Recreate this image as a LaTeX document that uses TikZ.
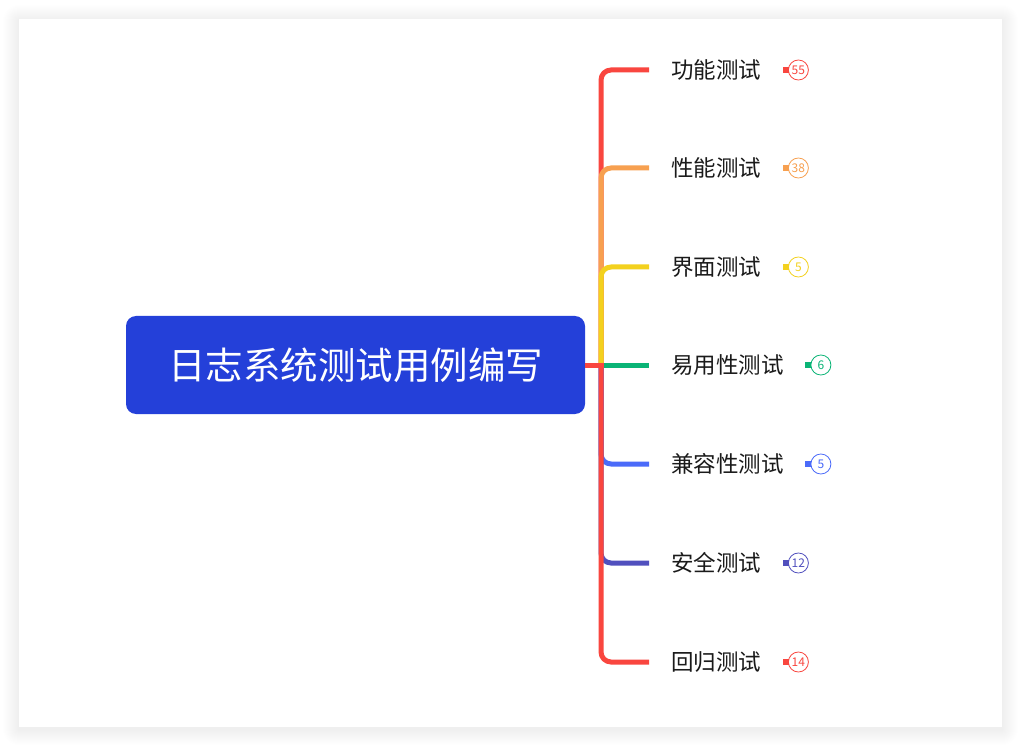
\documentclass[tikz,border=0pt]{standalone}
\usepackage{fontspec}
\usepackage{tikz}
\usetikzlibrary{positioning,calc}
\newfontfamily\cjk{Noto Sans CJK SC}
\definecolor{rootblue}{HTML}{2440D9}
\definecolor{brred}{HTML}{F9463F}
\definecolor{brorange}{HTML}{F7A050}
\definecolor{bryellow}{HTML}{F3D11E}
\definecolor{brgreen}{HTML}{0AB476}
\definecolor{brblue}{HTML}{4B6BF9}
\definecolor{brpurple}{HTML}{5150BE}
\definecolor{topicink}{HTML}{1A1A1A}

\begin{document}
\begin{tikzpicture}[x=1pt,y=-1pt,
  root/.style={fill=rootblue,rounded corners=10pt,minimum width=459pt,minimum height=98pt,inner sep=0pt,text=white,font=\cjk\fontsize{37.5}{44}\selectfont},
  topic/.style={anchor=west,inner sep=0pt,text=topicink,font=\cjk\fontsize{22.5}{26}\selectfont},
  branch/.style={line width=5pt,rounded corners=10pt},
  cnt/.style={circle,draw=#1,fill=white,line width=0.8pt,minimum size=20pt,inner sep=0pt,text=#1,font=\cjk\fontsize{12}{13}\selectfont},
  cntdot/.style={fill=#1,minimum width=6pt,minimum height=6pt,inner sep=0pt,anchor=east}
]
  \useasboundingbox (0,0) rectangle (1021,746);
  % soft shadow + card
  \foreach \i in {16,...,1}
    \fill[black,opacity=0.005,rounded corners=\i pt] (19-\i,19-\i+2) rectangle (1002+\i,727+\i+2);
  \fill[white] (19,19) rectangle (1002,727);

  \node[root] (root) at (355.5,365) {日志系统测试用例编写};
  \coordinate (hub) at (601,365);

  \node[topic] (t1) at (671,70)  {功能测试};
  \node[topic] (t2) at (671,168) {性能测试};
  \node[topic] (t3) at (671,267) {界面测试};
  \node[topic] (t4) at (671,365) {易用性测试};
  \node[topic] (t5) at (671,464) {兼容性测试};
  \node[topic] (t6) at (671,563) {安全测试};
  \node[topic] (t7) at (671,662) {回归测试};

  \draw[branch,brred]    (hub) |- ([xshift=-22pt]t1.west);
  \draw[branch,brorange] (hub) |- ([xshift=-22pt]t2.west);
  \draw[branch,bryellow] (hub) |- ([xshift=-22pt]t3.west);
  \draw[branch,brgreen]  (hub) -- ([xshift=-22pt]t4.west);
  \draw[branch,brblue]   (hub) |- ([xshift=-22pt]t5.west);
  \draw[branch,brpurple] (hub) |- ([xshift=-22pt]t6.west);
  \draw[branch,brred]    (hub) |- ([xshift=-22pt]t7.west);
  \draw[line width=5pt,brred] (root.east) -- ([xshift=2.5pt]hub);

  \node[cnt=brred]    (n1) at ([xshift=37pt]t1.east) {55};
  \node[cnt=brorange] (n2) at ([xshift=37pt]t2.east) {38};
  \node[cnt=bryellow] (n3) at ([xshift=37pt]t3.east) {5};
  \node[cnt=brgreen]  (n4) at ([xshift=37pt]t4.east) {6};
  \node[cnt=brblue]   (n5) at ([xshift=37pt]t5.east) {5};
  \node[cnt=brpurple] (n6) at ([xshift=37pt]t6.east) {12};
  \node[cnt=brred]    (n7) at ([xshift=37pt]t7.east) {14};
  \node[cntdot=brred]    at ([xshift=1pt]n1.west) {};
  \node[cntdot=brorange] at ([xshift=1pt]n2.west) {};
  \node[cntdot=bryellow] at ([xshift=1pt]n3.west) {};
  \node[cntdot=brgreen]  at ([xshift=1pt]n4.west) {};
  \node[cntdot=brblue]   at ([xshift=1pt]n5.west) {};
  \node[cntdot=brpurple] at ([xshift=1pt]n6.west) {};
  \node[cntdot=brred]    at ([xshift=1pt]n7.west) {};
\end{tikzpicture}
\end{document}
